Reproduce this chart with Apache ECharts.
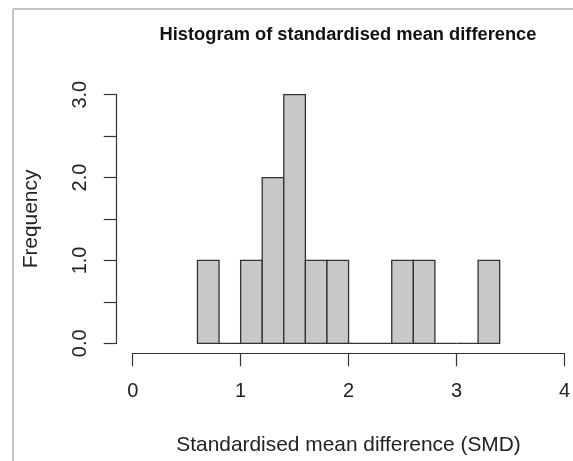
<!DOCTYPE html>
<html><head><meta charset="utf-8">
<script src="https://cdn.jsdelivr.net/npm/echarts@6/dist/echarts.min.js"></script>
<style>html,body{margin:0;padding:0;background:#fff}#c{width:573px;height:461px}</style>
</head><body><div id="c"></div>
<script>
const titleText = 'Histogram of standardised mean difference';
const xTitle = 'Standardised mean difference (SMD)';
const yTitle = 'Frequency';
const binEdges = [0.6, 0.8, 1.0, 1.2, 1.4, 1.6, 1.8, 2.0, 2.2, 2.4, 2.6, 2.8, 3.0, 3.2, 3.4];
const counts = [1, 0, 1, 2, 3, 1, 1, 0, 0, 1, 1, 0, 0, 1];
const xTickValues = [0, 1, 2, 3, 4];
const yTickLabels = ['0.0', '1.0', '2.0', '3.0'];

const data = counts.map((c, i) => [binEdges[i], binEdges[i + 1], c]);
const FONT = '"Liberation Sans", Arial, Helvetica, sans-serif';
const chart = echarts.init(document.getElementById('c'), null, {renderer: 'canvas'});
chart.setOption({
  animation: false,
  title: {
    text: titleText, left: 343, top: 21, textAlign: 'center',
    textStyle: {fontFamily: FONT, fontSize: 18.3, fontWeight: 'bold', color: '#111'}
  },
  grid: {left: 132.7, right: 7, top: 94.7, bottom: 117.7},
  xAxis: {
    type: 'value', min: xTickValues[0], max: xTickValues[xTickValues.length - 1], interval: 1,
    offset: 10,
    axisLine: {show: true, onZero: false, lineStyle: {color: '#333', width: 1.2}},
    axisTick: {show: true, length: 13, lineStyle: {color: '#333', width: 1.2}},
    axisLabel: {fontFamily: FONT, fontSize: 20, color: '#222', margin: 28},
    splitLine: {show: false},
    name: xTitle, nameLocation: 'middle', nameGap: 81,
    nameTextStyle: {fontFamily: FONT, fontSize: 20.9, color: '#222'}
  },
  yAxis: {
    type: 'value', min: 0, max: 3, interval: 0.5,
    offset: 16,
    axisLine: {show: true, onZero: false, lineStyle: {color: '#333', width: 1.2}},
    axisTick: {show: true, length: 13, lineStyle: {color: '#333', width: 1.2}},
    axisLabel: {
      fontFamily: FONT, fontSize: 20, color: '#222', rotate: 90, margin: 26,
      formatter: v => (Math.abs(v - Math.round(v)) < 1e-9 ? yTickLabels[Math.round(v)] : '')
    },
    splitLine: {show: false},
    name: yTitle, nameLocation: 'middle', nameGap: 75,
    nameTextStyle: {fontFamily: FONT, fontSize: 20.9, color: '#222'}
  },
  series: [{
    type: 'custom',
    data: data,
    encode: {x: [0, 1], y: 2},
    renderItem: function (params, api) {
      const p0 = api.coord([api.value(0), api.value(2)]);
      const p1 = api.coord([api.value(1), 0]);
      return {
        type: 'rect',
        shape: {x: p0[0], y: p0[1], width: p1[0] - p0[0], height: p1[1] - p0[1]},
        style: {fill: '#c8c8c8', stroke: '#333', lineWidth: 1.3}
      };
    }
  }],
  graphic: [
    {type: 'line', shape: {x1: 13, y1: 9, x2: 573, y2: 9}, style: {stroke: '#c4c4c4', lineWidth: 2}},
    {type: 'line', shape: {x1: 13, y1: 9, x2: 13, y2: 461}, style: {stroke: '#c4c4c4', lineWidth: 2}}
  ]
});
</script></body></html>
